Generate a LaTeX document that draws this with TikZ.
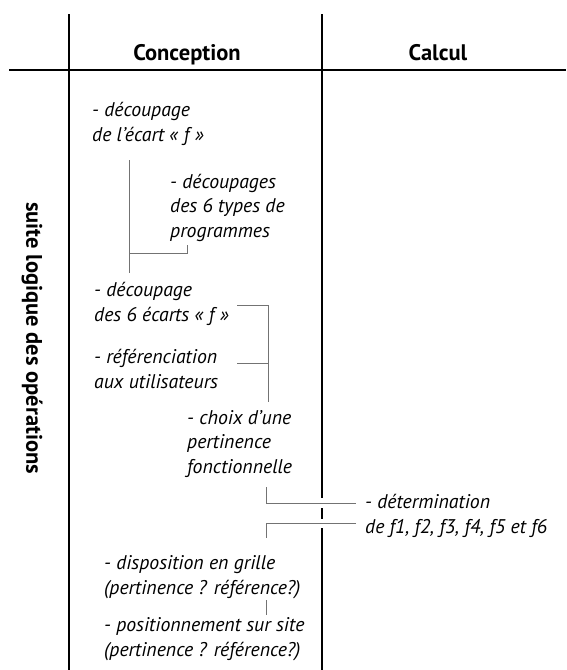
\documentclass[tikz,border=0pt]{standalone}
\usepackage{fontspec}
\setmainfont{PT Sans}
\begin{document}
\begin{tikzpicture}[x=1pt,y=-1pt,
  mainline/.style={line width=1.7pt,black},
  link/.style={line width=0.9pt,black!55},
  item/.style={anchor=base west,inner sep=0pt,align=left,font=\fontsize{19.8}{24.5}\selectfont\itshape},
  head/.style={anchor=base,inner sep=0pt,font=\fontsize{22.5}{24}\selectfont\bfseries}]
\useasboundingbox (0,0) rectangle (566,670);
% grid lines
\coordinate (v1t) at (69,14); \coordinate (v1b) at (69,670);
\coordinate (hl) at (9,70); \coordinate (hr) at (566,70);
\coordinate (v2t) at (322,14); \coordinate (v2a) at (322,498);
\coordinate (v2c) at (322,508); \coordinate (v2d) at (322,519);
\coordinate (v2e) at (322,528); \coordinate (v2b) at (322,670);
\draw[mainline] (v1t) -- (v1b);
\draw[mainline] (hl) -- (hr);
\draw[mainline] (v2t) -- (v2a);
\draw[mainline] (v2c) -- (v2d);
\draw[mainline] (v2e) -- (v2b);
% headers
\node[head] (hconc) at (187,60) {Conception};
\node[head] (hcalc) at (438,60) {Calcul};
\node[inner sep=0pt,rotate=-90,font=\fontsize{22.5}{24}\selectfont\bfseries] (side) at (32,338) {suite logique des opérations};
% items (anchor = baseline of last line)
\node[item] (a) at (92,141) {- découpage\\de l’écart «~f~»};
\node[item] (b) at (170,237) {- découpages\\des 6 types de\\programmes};
\node[item] (c) at (94,321) {- découpage\\des 6 écarts «~f~»};
\node[item] (d) at (94,388) {- référenciation\\aux utilisateurs};
\node[item] (e) at (187,473) {- choix d’une\\pertinence\\fonctionnelle};
\node[item] (f) at (365,533) {- détermination\\de f1, f2, f3, f4, f5 et f6};
\node[item] (g) at (104,594) {- disposition en grille\\(pertinence ? référence?)};
\node[item] (h) at (104,656) {- positionnement sur site\\(pertinence ? référence?)};
% connectors
\coordinate (ab1) at (129,160); \coordinate (ab2) at (129,273);
\coordinate (ab3) at (129,253); \coordinate (ab4) at (187,253); \coordinate (ab5) at (187,245);
\draw[link] (ab1) -- (ab2);
\draw[link] (ab3) -- (ab4) -- (ab5);
\coordinate (cd1) at (237,305); \coordinate (cd2) at (268,305); \coordinate (cd3) at (268,402);
\coordinate (cd4) at (237,363); \coordinate (cd5) at (268,363);
\draw[link] (cd1) -- (cd2) -- (cd3);
\draw[link] (cd4) -- (cd5);
\coordinate (ef1) at (266,487); \coordinate (ef2) at (266,503); \coordinate (ef3) at (356,503);
\draw[link] (ef1) -- (ef2) -- (ef3);
\coordinate (fg1) at (356,523); \coordinate (fg2) at (266,523); \coordinate (fg3) at (266,538);
\draw[link] (fg1) -- (fg2) -- (fg3);
\coordinate (gh1) at (266,600); \coordinate (gh2) at (266,615);
\draw[link] (gh1) -- (gh2);
\end{tikzpicture}
\end{document}
